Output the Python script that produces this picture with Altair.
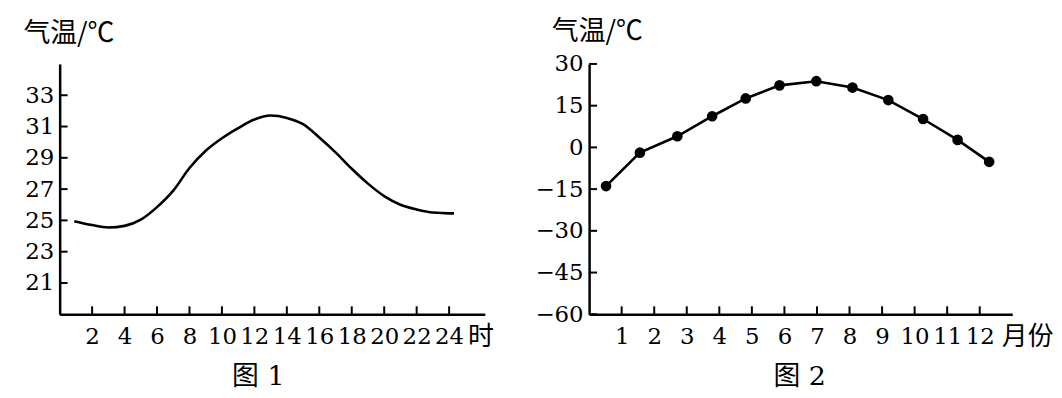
import altair as alt
import pandas as pd

# ---------------- Figure 1: daily temperature curve ----------------
hours = [0.9, 2, 3, 4, 5, 6, 7, 8, 9, 10, 11, 12, 13, 14, 15, 16, 17, 18,
         19, 20, 21, 22, 23, 24, 24.3]
temps1 = [24.95, 24.7, 24.55, 24.65, 25.05, 25.85, 26.9, 28.35, 29.45, 30.25,
          30.9, 31.45, 31.7, 31.55, 31.15, 30.3, 29.35, 28.3, 27.35, 26.55,
          26.0, 25.7, 25.5, 25.45, 25.45]
ticks1_x = [2, 4, 6, 8, 10, 12, 14, 16, 18, 20, 22, 24]
ticks1_y = [21, 23, 25, 27, 29, 31, 33]

# ---------------- Figure 2: monthly mean temperature ----------------
months = [0.52, 1.56, 2.71, 3.78, 4.81, 5.85, 6.98, 8.09, 9.19, 10.26, 11.32, 12.29]
temps2 = [-13.9, -1.9, 4.0, 11.2, 17.6, 22.3, 23.8, 21.5, 17.0, 10.2, 2.7, -5.2]
ticks2_x = [1, 2, 3, 4, 5, 6, 7, 8, 9, 10, 11, 12]
ticks2_y = [-60, -45, -30, -15, 0, 15, 30]

NUM = "DejaVu Serif"
CJK = "Noto Sans CJK SC"
MIX = "DejaVu Serif, Noto Sans CJK SC"
H = 252
W1, W2 = 428, 426
TL = 8  # tick length (inward)


def xaxis(values, title, tx):
    return alt.Axis(values=values, ticks=False, tickSize=0, grid=False,
                    domainColor="black", domainWidth=2.5,
                    labelFont=NUM, labelFontSize=23, labelColor="black",
                    labelBaseline="middle", labelPadding=22,
                    labelOverlap=False, labelFlush=False, format="d",
                    title=title, titleFont=CJK, titleFontSize=26,
                    titleFontWeight="normal", titleColor="black",
                    titleAngle=0, titleAlign="left", titleBaseline="middle",
                    titleX=tx, titleY=22)


def yaxis(values, title, tx, ty):
    return alt.Axis(values=values, ticks=False, tickSize=0, grid=False,
                    domainColor="black", domainWidth=2.5,
                    labelFont=NUM, labelFontSize=23, labelColor="black",
                    labelPadding=6, labelOverlap=False, labelFlush=False,
                    format="d",
                    title=title, titleFont=CJK, titleFontSize=27,
                    titleFontWeight="normal", titleColor="black",
                    titleAngle=0, titleAlign="left", titleBaseline="middle",
                    titleX=tx, titleY=ty)


def panel(df, xdom, ydom, xt, yt, xtitle, xtx, ytx, yty, caption, capx,
          points, width):
    xs = alt.Scale(domain=xdom, nice=False, zero=False)
    ys = alt.Scale(domain=ydom, nice=False, zero=False)
    xa = xaxis(xt, xtitle, xtx)
    ya = yaxis(yt, "气温/℃", ytx, yty)
    line = alt.Chart(df).mark_line(
        color="black", strokeWidth=2.6,
        interpolate="monotone" if not points else "linear").encode(
        x=alt.X("x:Q", scale=xs, axis=xa),
        y=alt.Y("y:Q", scale=ys, axis=ya),
    )
    layers = [line]
    if points:
        layers.append(alt.Chart(df).mark_circle(color="black", opacity=1, size=115).encode(
            x=alt.X("x:Q", scale=xs, axis=xa),
            y=alt.Y("y:Q", scale=ys, axis=ya),
        ))
    ytk = alt.Chart(pd.DataFrame({"y": yt})).mark_rule(color="black", strokeWidth=2).encode(
        y=alt.Y("y:Q", scale=ys, axis=ya),
        x=alt.value(0), x2=alt.value(TL),
    )
    xtk = alt.Chart(pd.DataFrame({"x": xt})).mark_rule(color="black", strokeWidth=2).encode(
        x=alt.X("x:Q", scale=xs, axis=xa),
        y=alt.value(H), y2=alt.value(H - TL),
    )
    cap = alt.Chart(pd.DataFrame({"label": [caption]})).mark_text(
        font=MIX, fontSize=27, color="black", align="center", baseline="middle"
    ).encode(text="label:N", x=alt.value(capx), y=alt.value(H + 63))
    layers += [ytk, xtk, cap]
    return alt.layer(*layers).properties(width=width, height=H)


df1 = pd.DataFrame({"x": hours, "y": temps1})
df2 = pd.DataFrame({"x": months, "y": temps2})

left = panel(df1, [0, 26.2], [19, 35], ticks1_x, ticks1_y, "时", 410.7,
             -37, -30.3, "图 1", 200, False, W1)
right = panel(df2, [0, 13], [-60, 30], ticks2_x, ticks2_y, "月份", 415,
              -38, -32.5, "图 2", 212, True, W2)

chart = alt.hconcat(left, right, spacing=105, bounds="flush").properties(
    padding={"left": 15, "top": 8, "right": 0, "bottom": 12},
    background="white",
).configure_view(stroke=None)

chart.save("out.html", embed_options={"renderer": "svg", "actions": False})
